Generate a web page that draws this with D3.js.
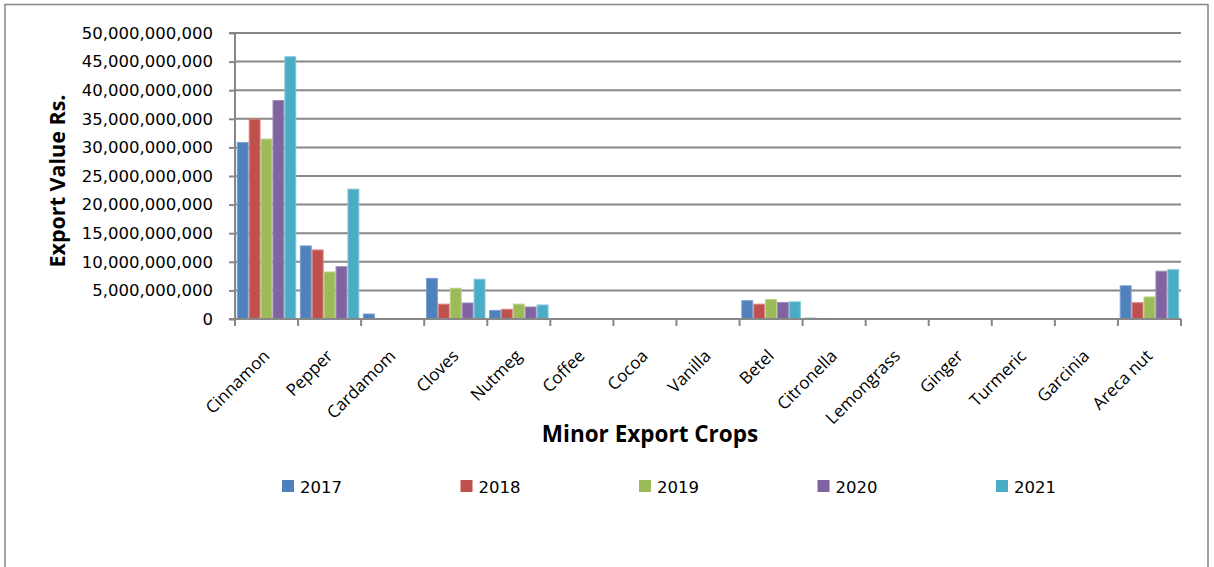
<!DOCTYPE html>
<html><head><meta charset="utf-8">
<script src="https://cdn.jsdelivr.net/npm/d3@7"></script>
<style>body{margin:0;background:#fff;} svg{display:block;}</style>
</head><body>
<script>
const categories = ["Cinnamon","Pepper","Cardamom","Cloves","Nutmeg","Coffee","Cocoa","Vanilla","Betel","Citronella","Lemongrass","Ginger","Turmeric","Garcinia","Areca nut"];
const years = ["2017","2018","2019","2020","2021"];
const v2017 = [30850000000,12780000000,870000000,7100000000,1500000000,30000000,10000000,5000000,3200000000,150000000,20000000,20000000,10000000,10000000,5800000000];
const v2018 = [34950000000,12070000000,40000000,2600000000,1700000000,30000000,10000000,5000000,2600000000,100000000,20000000,20000000,10000000,10000000,2850000000];
const v2019 = [31450000000,8220000000,30000000,5370000000,2600000000,30000000,10000000,5000000,3400000000,60000000,20000000,20000000,10000000,10000000,3850000000];
const v2020 = [38200000000,9150000000,30000000,2800000000,2100000000,30000000,10000000,5000000,2900000000,50000000,20000000,20000000,10000000,10000000,8350000000];
const v2021 = [45850000000,22700000000,30000000,6950000000,2450000000,30000000,10000000,5000000,3000000000,50000000,20000000,20000000,10000000,10000000,8630000000];
const series = [v2017,v2018,v2019,v2020,v2021];
const yTicks = [0,5000000000,10000000000,15000000000,20000000000,25000000000,30000000000,35000000000,40000000000,45000000000,50000000000];
const colors = ["#4F81BD","#C0504D","#9BBB59","#8064A2","#4BACC6"];
const strokes = ["#7a9fd0","#d88784","#b8d087","#a18cbd","#82c6d8"];

const W=1214,H=567;
const svg=d3.select("body").append("svg").attr("width",W).attr("height",H);
svg.append("rect").attr("x",5).attr("y",4.5).attr("width",1203).attr("height",600).attr("fill","#fff").attr("stroke","#868686").attr("stroke-width",1.5);

const m={left:235,right:1181,top:33,bottom:319};
const x=d3.scaleBand().domain(categories).range([m.left,m.right]).paddingInner(0).paddingOuter(0);
const xi=d3.scaleBand().domain(years).range([0,x.bandwidth()]).paddingInner(0).paddingOuter(0.15);
const y=d3.scaleLinear().domain([0,50000000000]).range([m.bottom,m.top]);

// gridlines
svg.append("g").selectAll("line").data(yTicks.slice(1)).join("line")
  .attr("x1",m.left).attr("x2",m.right).attr("y1",d=>y(d)).attr("y2",d=>y(d))
  .attr("stroke","#878787").attr("stroke-width",2);

// y axis
const fmt=d3.format(",");
const ya=svg.append("g").attr("transform",`translate(${m.left},0)`)
  .call(d3.axisLeft(y).tickValues(yTicks).tickFormat(fmt).tickSize(6).tickPadding(16));
ya.select(".domain").attr("stroke","#878787").attr("stroke-width",2).attr("d",`M-6,${m.top}H0V${m.bottom}`);
ya.selectAll(".tick line").attr("stroke","#878787").attr("stroke-width",2);
ya.selectAll("text").attr("font-family","DejaVu Sans").attr("font-size",16.5).attr("fill","#000");

// bars
const g=svg.append("g");
categories.forEach((c,i)=>{
  years.forEach((yr,j)=>{
    const val=series[j][i];
    g.append("rect").attr("x",x(c)+xi(yr)+0.5).attr("width",xi.bandwidth()-1)
      .attr("y",y(val)).attr("height",y(0)-y(val))
      .attr("fill",colors[j]).attr("stroke",strokes[j]).attr("stroke-width",1);
  });
});

// x axis
const xa=svg.append("g").attr("transform",`translate(0,${m.bottom})`);
xa.append("line").attr("x1",m.left-6).attr("x2",m.right).attr("stroke","#878787").attr("stroke-width",2);
const bounds=categories.map(c=>x(c)).concat([m.right]);
xa.selectAll("line.tk").data(bounds).join("line").attr("class","tk")
  .attr("x1",d=>d).attr("x2",d=>d).attr("y1",0).attr("y2",7).attr("stroke","#878787").attr("stroke-width",2);
xa.selectAll("text").data(categories).join("text")
  .attr("transform",d=>`translate(${x(d)+x.bandwidth()/2+4},${38}) rotate(-45)`)
  .attr("text-anchor","end").attr("font-family","Open Sans").attr("font-size",17).attr("fill","#000")
  .text(d=>d);

// axis titles
svg.append("text").attr("x",650).attr("y",442).attr("text-anchor","middle")
  .attr("font-family","Open Sans").attr("font-weight","bold").attr("font-size",22.5).text("Minor Export Crops");
svg.append("text").attr("transform","translate(65,181) rotate(-90)").attr("text-anchor","middle")
  .attr("font-family","Open Sans").attr("font-weight","bold").attr("font-size",21.5).text("Export Value Rs.");

// legend
const lg=svg.append("g");
years.forEach((yr,j)=>{
  const lx=282+j*178.5;
  lg.append("rect").attr("x",lx).attr("y",480).attr("width",12).attr("height",12).attr("fill",colors[j]);
  lg.append("text").attr("x",lx+18).attr("y",493).attr("font-family","DejaVu Sans").attr("font-size",16.5).text(yr);
});
</script>
</body></html>
